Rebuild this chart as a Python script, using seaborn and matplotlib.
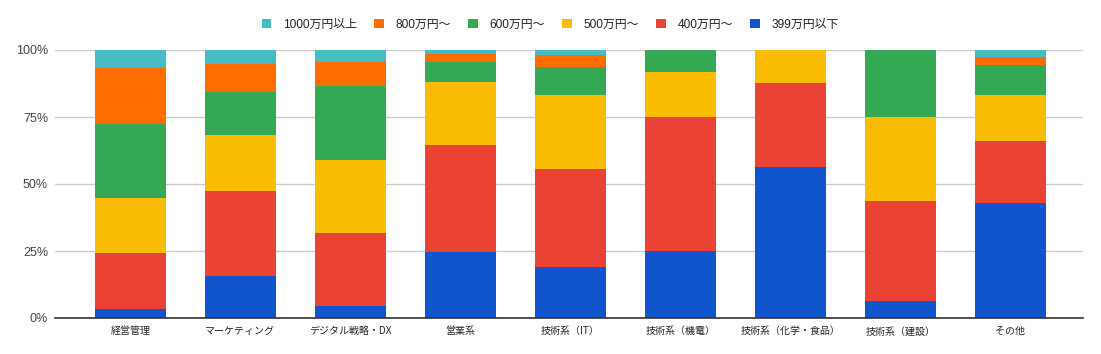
import numpy as np
import pandas as pd
import matplotlib
matplotlib.use("Agg")
import matplotlib.pyplot as plt
import seaborn as sns
from matplotlib.patches import Patch

categories = ["経営管理", "マーケティング", "デジタル戦略・DX", "営業系", "技術系（IT）",
              "技術系（機電）", "技術系（化学・食品）", "技術系（建設）", "その他"]

# share of respondents per salary band (%)
s_399 = [3.4, 15.8, 4.5, 24.6, 19.1, 25.0, 56.3, 6.3, 42.8]
s_400 = [20.7, 31.6, 27.3, 39.9, 36.4, 50.0, 31.3, 37.5, 23.2]
s_500 = [20.7, 21.1, 27.3, 23.2, 27.7, 16.7, 12.5, 31.3, 17.2]
s_600 = [27.6, 15.8, 27.3, 7.5, 10.5, 8.3, 0.0, 25.0, 11.2]
s_800 = [20.7, 10.5, 9.1, 3.0, 4.5, 0.0, 0.0, 0.0, 3.0]
s_1000 = [6.9, 5.3, 4.5, 1.6, 1.9, 0.0, 0.0, 0.0, 2.6]

bands = ["399万円以下", "400万円〜", "500万円〜", "600万円〜", "800万円〜", "1000万円以上"]
colors = ["#1155CC", "#EA4335", "#FBBC04", "#34A853", "#FF6D01", "#46BDC6"]

df = pd.DataFrame(dict(zip(bands, [s_399, s_400, s_500, s_600, s_800, s_1000])), index=categories)
df = df.div(df.sum(axis=1), axis=0) * 100
cum = df.cumsum(axis=1)

sns.set_style("white")
plt.rcParams["font.family"] = ["Liberation Sans", "Noto Sans CJK JP"]

fig = plt.figure(figsize=(11.01, 3.54), dpi=100)
ax = fig.add_axes([55 / 1101, 36 / 354, 1028 / 1101, 268 / 354])

# draw from the top band down so each layer covers the one above
for band, col in zip(reversed(bands), reversed(colors)):
    sns.barplot(x=categories, y=cum[band].values, color=col, width=0.645,
                saturation=1, ax=ax, zorder=3, linewidth=0)

ax.set_ylim(0, 100)
ax.set_xlim(-0.686, 8.66)
ax.set_yticks([0, 25, 50, 75, 100])
ax.set_yticklabels(["0%", "25%", "50%", "75%", "100%"], fontsize=9, color="#444444")
ax.tick_params(axis="y", length=0, pad=5)
ax.tick_params(axis="x", length=0, pad=6)
for lab in ax.get_xticklabels():
    lab.set_fontfamily(["Noto Sans CJK JP"])
    lab.set_fontsize(7.2)
    lab.set_color("#222222")
ax.yaxis.grid(True, color="#CCCCCC", linewidth=1, zorder=0)
ax.set_axisbelow(True)
for side in ["top", "right", "left"]:
    ax.spines[side].set_visible(False)
ax.spines["bottom"].set_color("#333333")
ax.spines["bottom"].set_linewidth(1.2)
ax.spines["bottom"].set_zorder(5)

handles = [Patch(facecolor=c, edgecolor="none") for c in reversed(colors)]
fig.legend(handles, list(reversed(bands)), loc="center", bbox_to_anchor=(0.5, 1 - 25 / 354),
           ncol=6, frameon=False, fontsize=8.6, handlelength=0.8, handleheight=0.8,
           handletextpad=1.0, columnspacing=1.42, labelcolor="#222222")

plt.savefig("out.png", dpi=100)
